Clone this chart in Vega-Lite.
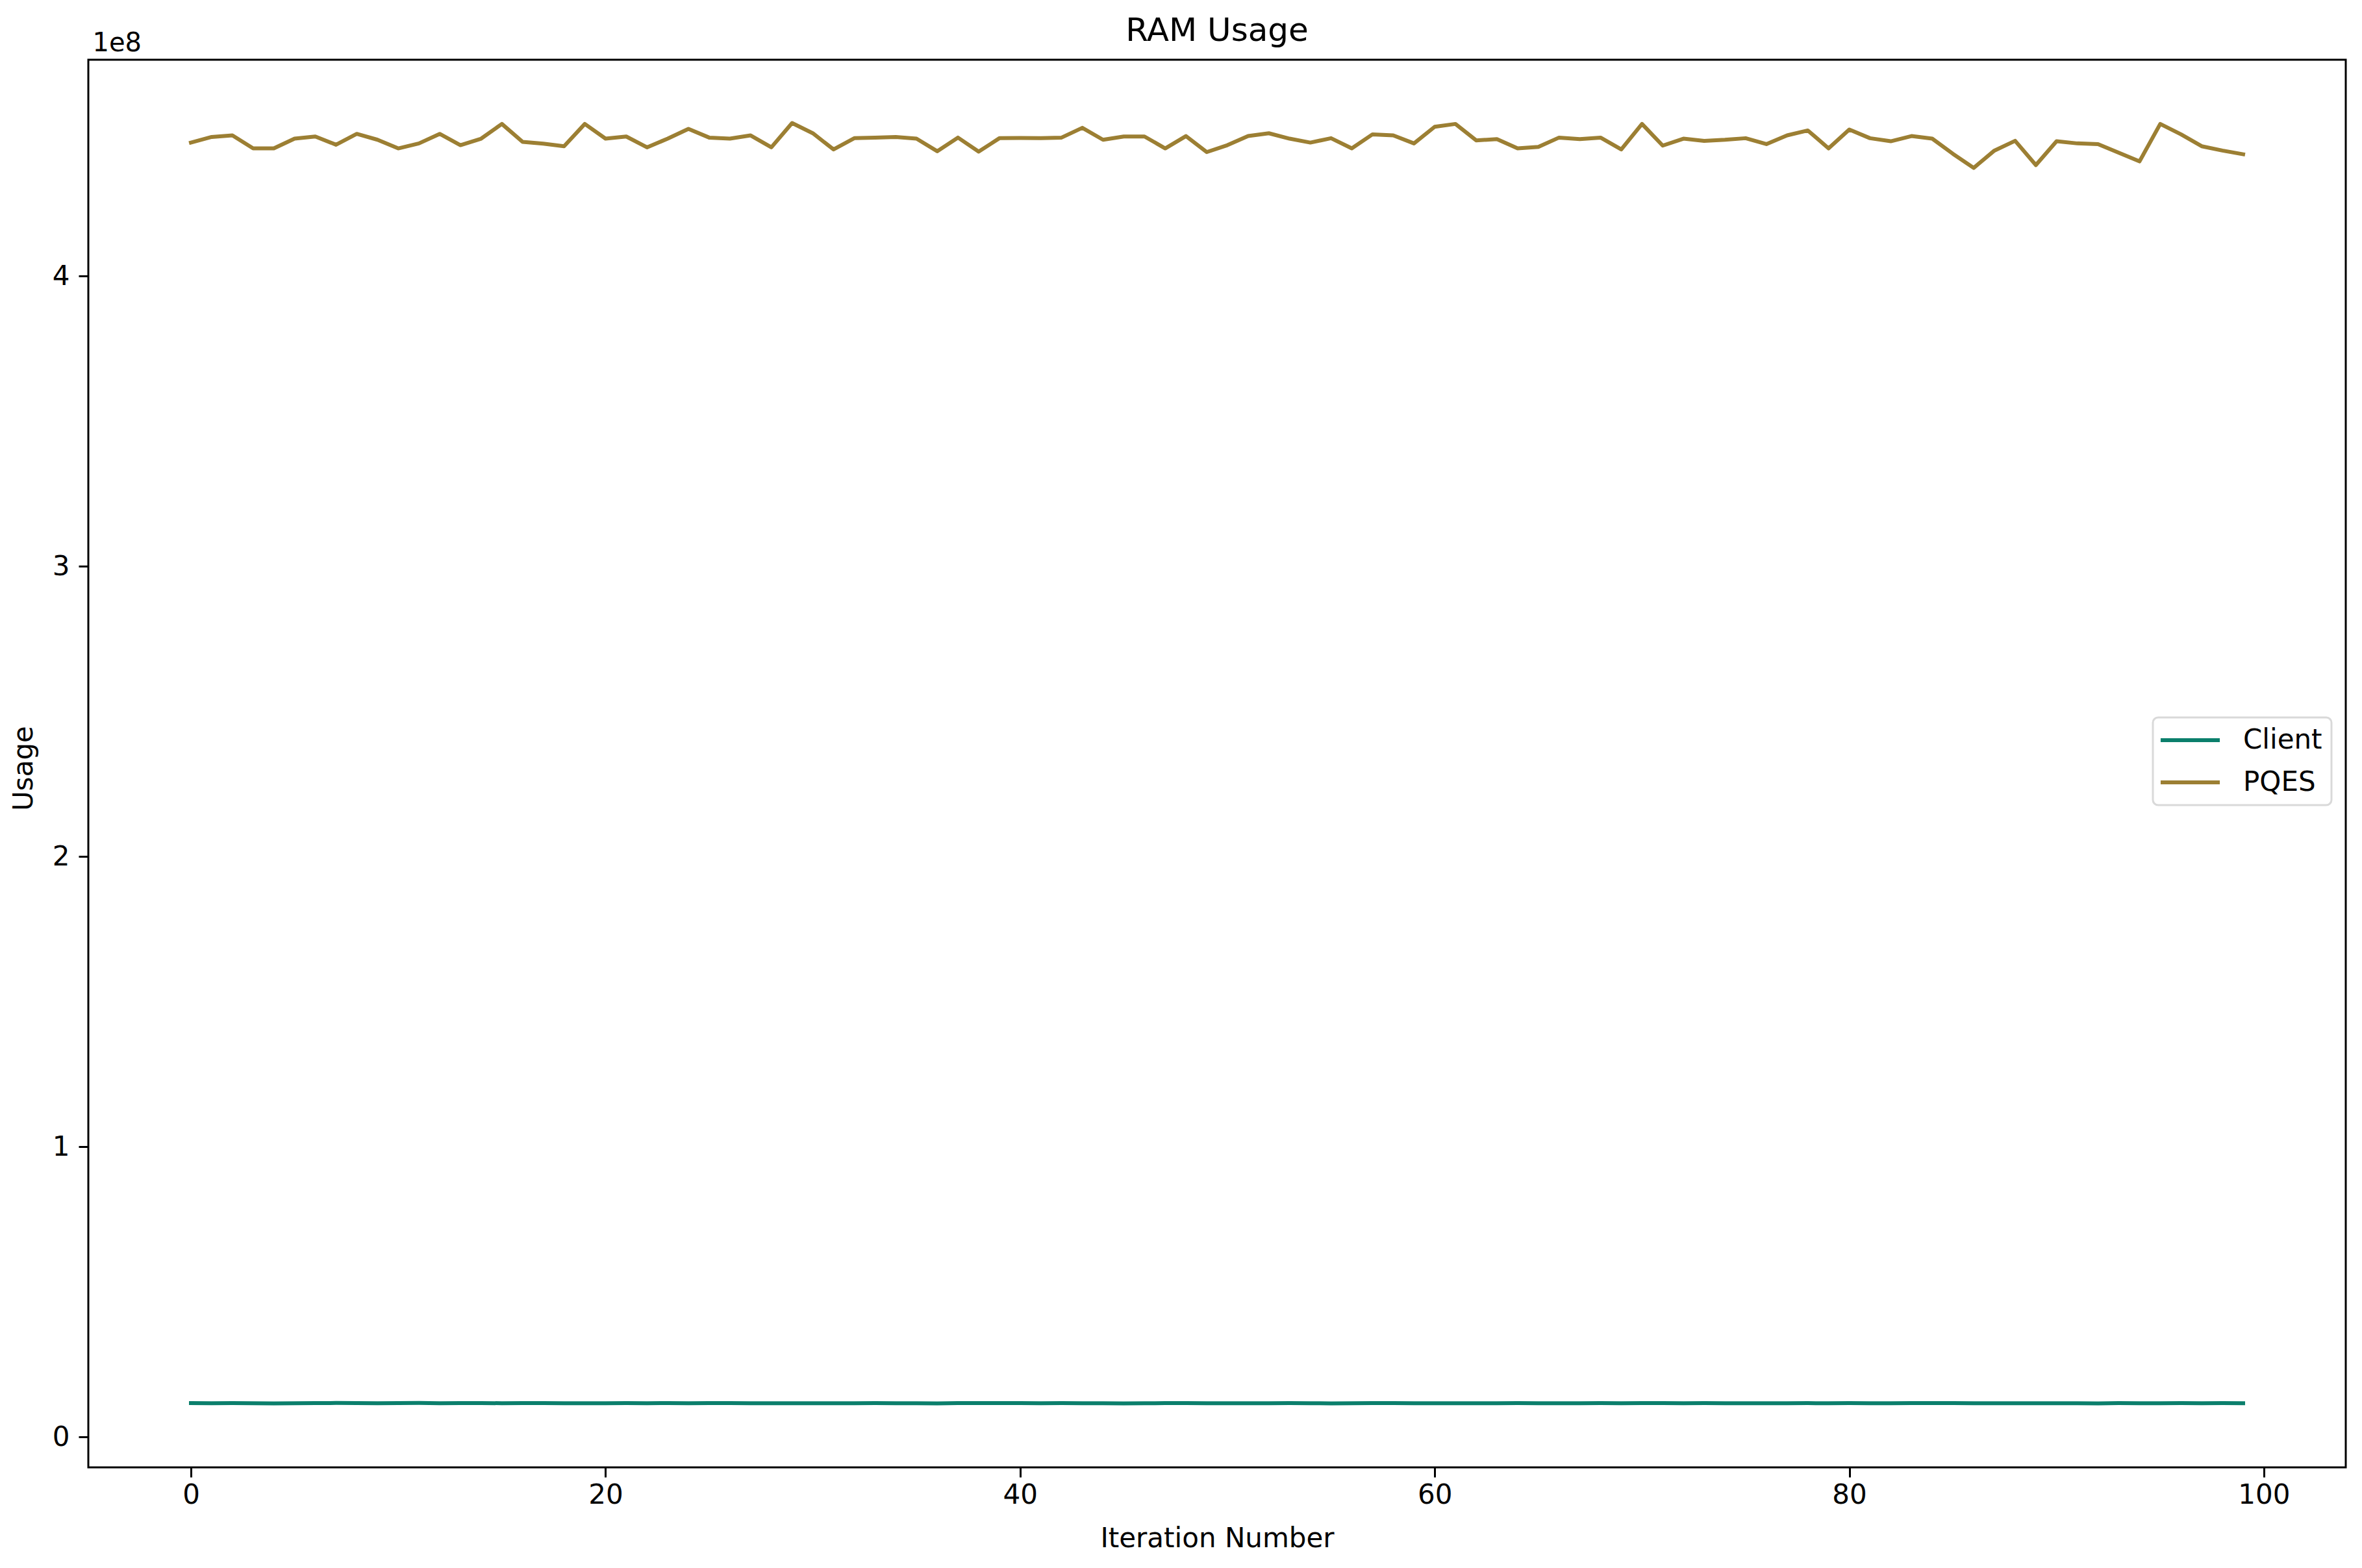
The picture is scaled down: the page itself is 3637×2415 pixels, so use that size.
{
  "$schema": "https://vega.github.io/schema/vega-lite/v6.json",
  "width": 3476,
  "height": 2168,
  "autosize": {"type": "none"},
  "padding": {"left": 136, "top": 92, "right": 25, "bottom": 155},
  "background": "white",
  "title": {"text": "RAM Usage", "fontSize": 50, "font": "DejaVu Sans", "fontWeight": "normal", "color": "black", "anchor": "middle", "frame": "group", "baseline": "alphabetic", "offset": -67},
  "config": {
    "font": "DejaVu Sans",
    "view": {"stroke": "black", "strokeWidth": 3},
    "axis": {"labelFont": "DejaVu Sans", "titleFont": "DejaVu Sans", "labelColor": "black", "titleColor": "black", "tickColor": "black", "titleFontWeight": "normal", "grid": false, "domain": false},
    "legend": {"strokeWidth": 3}
  },
  "data": {"values": [
    {"Iteration":0,"Series":"Client","Usage":11650000},{"Iteration":1,"Series":"Client","Usage":11600000},{"Iteration":2,"Series":"Client","Usage":11620000},{"Iteration":3,"Series":"Client","Usage":11580000},{"Iteration":4,"Series":"Client","Usage":11560000},
    {"Iteration":5,"Series":"Client","Usage":11570000},{"Iteration":6,"Series":"Client","Usage":11620000},{"Iteration":7,"Series":"Client","Usage":11680000},{"Iteration":8,"Series":"Client","Usage":11640000},{"Iteration":9,"Series":"Client","Usage":11600000},
    {"Iteration":10,"Series":"Client","Usage":11630000},{"Iteration":11,"Series":"Client","Usage":11680000},{"Iteration":12,"Series":"Client","Usage":11600000},{"Iteration":13,"Series":"Client","Usage":11620000},{"Iteration":14,"Series":"Client","Usage":11660000},
    {"Iteration":15,"Series":"Client","Usage":11600000},{"Iteration":16,"Series":"Client","Usage":11640000},{"Iteration":17,"Series":"Client","Usage":11630000},{"Iteration":18,"Series":"Client","Usage":11600000},{"Iteration":19,"Series":"Client","Usage":11580000},
    {"Iteration":20,"Series":"Client","Usage":11600000},{"Iteration":21,"Series":"Client","Usage":11650000},{"Iteration":22,"Series":"Client","Usage":11590000},{"Iteration":23,"Series":"Client","Usage":11640000},{"Iteration":24,"Series":"Client","Usage":11600000},
    {"Iteration":25,"Series":"Client","Usage":11620000},{"Iteration":26,"Series":"Client","Usage":11630000},{"Iteration":27,"Series":"Client","Usage":11610000},{"Iteration":28,"Series":"Client","Usage":11590000},{"Iteration":29,"Series":"Client","Usage":11600000},
    {"Iteration":30,"Series":"Client","Usage":11570000},{"Iteration":31,"Series":"Client","Usage":11580000},{"Iteration":32,"Series":"Client","Usage":11600000},{"Iteration":33,"Series":"Client","Usage":11640000},{"Iteration":34,"Series":"Client","Usage":11600000},
    {"Iteration":35,"Series":"Client","Usage":11580000},{"Iteration":36,"Series":"Client","Usage":11560000},{"Iteration":37,"Series":"Client","Usage":11620000},{"Iteration":38,"Series":"Client","Usage":11640000},{"Iteration":39,"Series":"Client","Usage":11650000},
    {"Iteration":40,"Series":"Client","Usage":11620000},{"Iteration":41,"Series":"Client","Usage":11600000},{"Iteration":42,"Series":"Client","Usage":11630000},{"Iteration":43,"Series":"Client","Usage":11610000},{"Iteration":44,"Series":"Client","Usage":11580000},
    {"Iteration":45,"Series":"Client","Usage":11560000},{"Iteration":46,"Series":"Client","Usage":11590000},{"Iteration":47,"Series":"Client","Usage":11620000},{"Iteration":48,"Series":"Client","Usage":11660000},{"Iteration":49,"Series":"Client","Usage":11610000},
    {"Iteration":50,"Series":"Client","Usage":11590000},{"Iteration":51,"Series":"Client","Usage":11570000},{"Iteration":52,"Series":"Client","Usage":11600000},{"Iteration":53,"Series":"Client","Usage":11620000},{"Iteration":54,"Series":"Client","Usage":11580000},
    {"Iteration":55,"Series":"Client","Usage":11560000},{"Iteration":56,"Series":"Client","Usage":11600000},{"Iteration":57,"Series":"Client","Usage":11640000},{"Iteration":58,"Series":"Client","Usage":11620000},{"Iteration":59,"Series":"Client","Usage":11590000},
    {"Iteration":60,"Series":"Client","Usage":11600000},{"Iteration":61,"Series":"Client","Usage":11610000},{"Iteration":62,"Series":"Client","Usage":11580000},{"Iteration":63,"Series":"Client","Usage":11600000},{"Iteration":64,"Series":"Client","Usage":11620000},
    {"Iteration":65,"Series":"Client","Usage":11590000},{"Iteration":66,"Series":"Client","Usage":11570000},{"Iteration":67,"Series":"Client","Usage":11600000},{"Iteration":68,"Series":"Client","Usage":11640000},{"Iteration":69,"Series":"Client","Usage":11610000},
    {"Iteration":70,"Series":"Client","Usage":11660000},{"Iteration":71,"Series":"Client","Usage":11650000},{"Iteration":72,"Series":"Client","Usage":11580000},{"Iteration":73,"Series":"Client","Usage":11620000},{"Iteration":74,"Series":"Client","Usage":11600000},
    {"Iteration":75,"Series":"Client","Usage":11590000},{"Iteration":76,"Series":"Client","Usage":11580000},{"Iteration":77,"Series":"Client","Usage":11600000},{"Iteration":78,"Series":"Client","Usage":11620000},{"Iteration":79,"Series":"Client","Usage":11590000},
    {"Iteration":80,"Series":"Client","Usage":11640000},{"Iteration":81,"Series":"Client","Usage":11600000},{"Iteration":82,"Series":"Client","Usage":11590000},{"Iteration":83,"Series":"Client","Usage":11620000},{"Iteration":84,"Series":"Client","Usage":11650000},
    {"Iteration":85,"Series":"Client","Usage":11640000},{"Iteration":86,"Series":"Client","Usage":11600000},{"Iteration":87,"Series":"Client","Usage":11580000},{"Iteration":88,"Series":"Client","Usage":11600000},{"Iteration":89,"Series":"Client","Usage":11570000},
    {"Iteration":90,"Series":"Client","Usage":11590000},{"Iteration":91,"Series":"Client","Usage":11600000},{"Iteration":92,"Series":"Client","Usage":11560000},{"Iteration":93,"Series":"Client","Usage":11620000},{"Iteration":94,"Series":"Client","Usage":11580000},
    {"Iteration":95,"Series":"Client","Usage":11600000},{"Iteration":96,"Series":"Client","Usage":11650000},{"Iteration":97,"Series":"Client","Usage":11600000},{"Iteration":98,"Series":"Client","Usage":11620000},{"Iteration":99,"Series":"Client","Usage":11590000},
    {"Iteration":0,"Series":"PQES","Usage":445960000},{"Iteration":1,"Series":"PQES","Usage":447900000},{"Iteration":2,"Series":"PQES","Usage":448430000},{"Iteration":3,"Series":"PQES","Usage":443950000},{"Iteration":4,"Series":"PQES","Usage":443950000},
    {"Iteration":5,"Series":"PQES","Usage":447310000},{"Iteration":6,"Series":"PQES","Usage":448050000},{"Iteration":7,"Series":"PQES","Usage":445220000},{"Iteration":8,"Series":"PQES","Usage":448950000},{"Iteration":9,"Series":"PQES","Usage":446930000},
    {"Iteration":10,"Series":"PQES","Usage":443950000},{"Iteration":11,"Series":"PQES","Usage":445670000},{"Iteration":12,"Series":"PQES","Usage":448950000},{"Iteration":13,"Series":"PQES","Usage":445070000},{"Iteration":14,"Series":"PQES","Usage":447310000},
    {"Iteration":15,"Series":"PQES","Usage":452380000},{"Iteration":16,"Series":"PQES","Usage":446190000},{"Iteration":17,"Series":"PQES","Usage":445590000},{"Iteration":18,"Series":"PQES","Usage":444700000},{"Iteration":19,"Series":"PQES","Usage":452380000},
    {"Iteration":20,"Series":"PQES","Usage":447310000},{"Iteration":21,"Series":"PQES","Usage":448050000},{"Iteration":22,"Series":"PQES","Usage":444320000},{"Iteration":23,"Series":"PQES","Usage":447310000},{"Iteration":24,"Series":"PQES","Usage":450670000},
    {"Iteration":25,"Series":"PQES","Usage":447680000},{"Iteration":26,"Series":"PQES","Usage":447310000},{"Iteration":27,"Series":"PQES","Usage":448430000},{"Iteration":28,"Series":"PQES","Usage":444320000},{"Iteration":29,"Series":"PQES","Usage":452680000},
    {"Iteration":30,"Series":"PQES","Usage":449170000},{"Iteration":31,"Series":"PQES","Usage":443580000},{"Iteration":32,"Series":"PQES","Usage":447460000},{"Iteration":33,"Series":"PQES","Usage":447680000},{"Iteration":34,"Series":"PQES","Usage":447900000},
    {"Iteration":35,"Series":"PQES","Usage":447310000},{"Iteration":36,"Series":"PQES","Usage":442980000},{"Iteration":37,"Series":"PQES","Usage":447680000},{"Iteration":38,"Series":"PQES","Usage":442830000},{"Iteration":39,"Series":"PQES","Usage":447460000},
    {"Iteration":40,"Series":"PQES","Usage":447530000},{"Iteration":41,"Series":"PQES","Usage":447460000},{"Iteration":42,"Series":"PQES","Usage":447680000},{"Iteration":43,"Series":"PQES","Usage":451040000},{"Iteration":44,"Series":"PQES","Usage":446930000},
    {"Iteration":45,"Series":"PQES","Usage":448050000},{"Iteration":46,"Series":"PQES","Usage":448050000},{"Iteration":47,"Series":"PQES","Usage":443950000},{"Iteration":48,"Series":"PQES","Usage":448200000},{"Iteration":49,"Series":"PQES","Usage":442680000},
    {"Iteration":50,"Series":"PQES","Usage":445070000},{"Iteration":51,"Series":"PQES","Usage":448200000},{"Iteration":52,"Series":"PQES","Usage":449170000},{"Iteration":53,"Series":"PQES","Usage":447310000},{"Iteration":54,"Series":"PQES","Usage":445960000},
    {"Iteration":55,"Series":"PQES","Usage":447460000},{"Iteration":56,"Series":"PQES","Usage":443950000},{"Iteration":57,"Series":"PQES","Usage":448800000},{"Iteration":58,"Series":"PQES","Usage":448430000},{"Iteration":59,"Series":"PQES","Usage":445670000},
    {"Iteration":60,"Series":"PQES","Usage":451410000},{"Iteration":61,"Series":"PQES","Usage":452380000},{"Iteration":62,"Series":"PQES","Usage":446710000},{"Iteration":63,"Series":"PQES","Usage":447160000},{"Iteration":64,"Series":"PQES","Usage":443950000},
    {"Iteration":65,"Series":"PQES","Usage":444470000},{"Iteration":66,"Series":"PQES","Usage":447680000},{"Iteration":67,"Series":"PQES","Usage":447160000},{"Iteration":68,"Series":"PQES","Usage":447680000},{"Iteration":69,"Series":"PQES","Usage":443580000},
    {"Iteration":70,"Series":"PQES","Usage":452380000},{"Iteration":71,"Series":"PQES","Usage":444920000},{"Iteration":72,"Series":"PQES","Usage":447310000},{"Iteration":73,"Series":"PQES","Usage":446560000},{"Iteration":74,"Series":"PQES","Usage":446930000},
    {"Iteration":75,"Series":"PQES","Usage":447460000},{"Iteration":76,"Series":"PQES","Usage":445440000},{"Iteration":77,"Series":"PQES","Usage":448430000},{"Iteration":78,"Series":"PQES","Usage":450140000},{"Iteration":79,"Series":"PQES","Usage":443950000},
    {"Iteration":80,"Series":"PQES","Usage":450440000},{"Iteration":81,"Series":"PQES","Usage":447460000},{"Iteration":82,"Series":"PQES","Usage":446410000},{"Iteration":83,"Series":"PQES","Usage":448200000},{"Iteration":84,"Series":"PQES","Usage":447310000},
    {"Iteration":85,"Series":"PQES","Usage":442080000},{"Iteration":86,"Series":"PQES","Usage":437230000},{"Iteration":87,"Series":"PQES","Usage":443200000},{"Iteration":88,"Series":"PQES","Usage":446560000},{"Iteration":89,"Series":"PQES","Usage":438200000},
    {"Iteration":90,"Series":"PQES","Usage":446410000},{"Iteration":91,"Series":"PQES","Usage":445670000},{"Iteration":92,"Series":"PQES","Usage":445440000},{"Iteration":93,"Series":"PQES","Usage":442460000},{"Iteration":94,"Series":"PQES","Usage":439470000},
    {"Iteration":95,"Series":"PQES","Usage":452380000},{"Iteration":96,"Series":"PQES","Usage":448800000},{"Iteration":97,"Series":"PQES","Usage":444700000},{"Iteration":98,"Series":"PQES","Usage":443200000},{"Iteration":99,"Series":"PQES","Usage":441930000}
  ]},
  "layer": [
    {
      "mark": {"type": "line", "strokeWidth": 6, "strokeJoin": "round", "strokeCap": "square"},
      "encoding": {
        "x": {"field": "Iteration", "type": "quantitative",
          "scale": {"domain": [-4.95, 103.95], "nice": false, "zero": false},
          "axis": {"orient": "bottom", "values": [0, 20, 40, 60, 80, 100], "format": "d", "labelFontSize": 42, "tickSize": 15, "tickWidth": 3, "labelPadding": 7,
            "title": "Iteration Number", "titleFontSize": 42, "titleBaseline": "alphabetic", "titleY": 122}},
        "y": {"field": "Usage", "type": "quantitative",
          "scale": {"domain": [-10500000, 474500000], "nice": false, "zero": false},
          "axis": {"values": [0, 100000000, 200000000, 300000000, 400000000], "labelExpr": "format(datum.value / 100000000, 'd')", "labelFontSize": 42, "tickSize": 15, "tickWidth": 3, "labelPadding": 14,
            "title": "Usage", "titleFontSize": 42, "titleAngle": 270, "titleBaseline": "alphabetic", "titleX": -87, "titleY": 1091, "titleAlign": "center"}},
        "color": {"field": "Series", "type": "nominal",
          "scale": {"domain": ["Client", "PQES"], "range": ["#0b7f6c", "#9c7f33"]},
          "legend": {"orient": "none", "legendX": 3179, "legendY": 1013, "title": null,
            "symbolType": "M-1.28,0H3.78", "symbolSize": 1296, "symbolStrokeWidth": 6,
            "labelFontSize": 42, "labelFont": "DejaVu Sans", "labelColor": "black", "labelOffset": 83,
            "padding": 14, "rowPadding": 23, "strokeColor": "#d9d9d9", "cornerRadius": 8, "fillColor": "white"}}
      }
    },
    {
      "mark": {"type": "point", "opacity": 0},
      "encoding": {
        "x": {"field": "Iteration", "type": "quantitative",
          "axis": {"orient": "top", "labels": false, "ticks": false, "title": "1e8", "titleFontSize": 40, "titleAnchor": "start", "titleAlign": "left", "titleAngle": 0, "titleBaseline": "alphabetic", "titleX": 6, "titleY": -14}}
      }
    }
  ],
  "resolve": {"axis": {"x": "independent"}}
}
